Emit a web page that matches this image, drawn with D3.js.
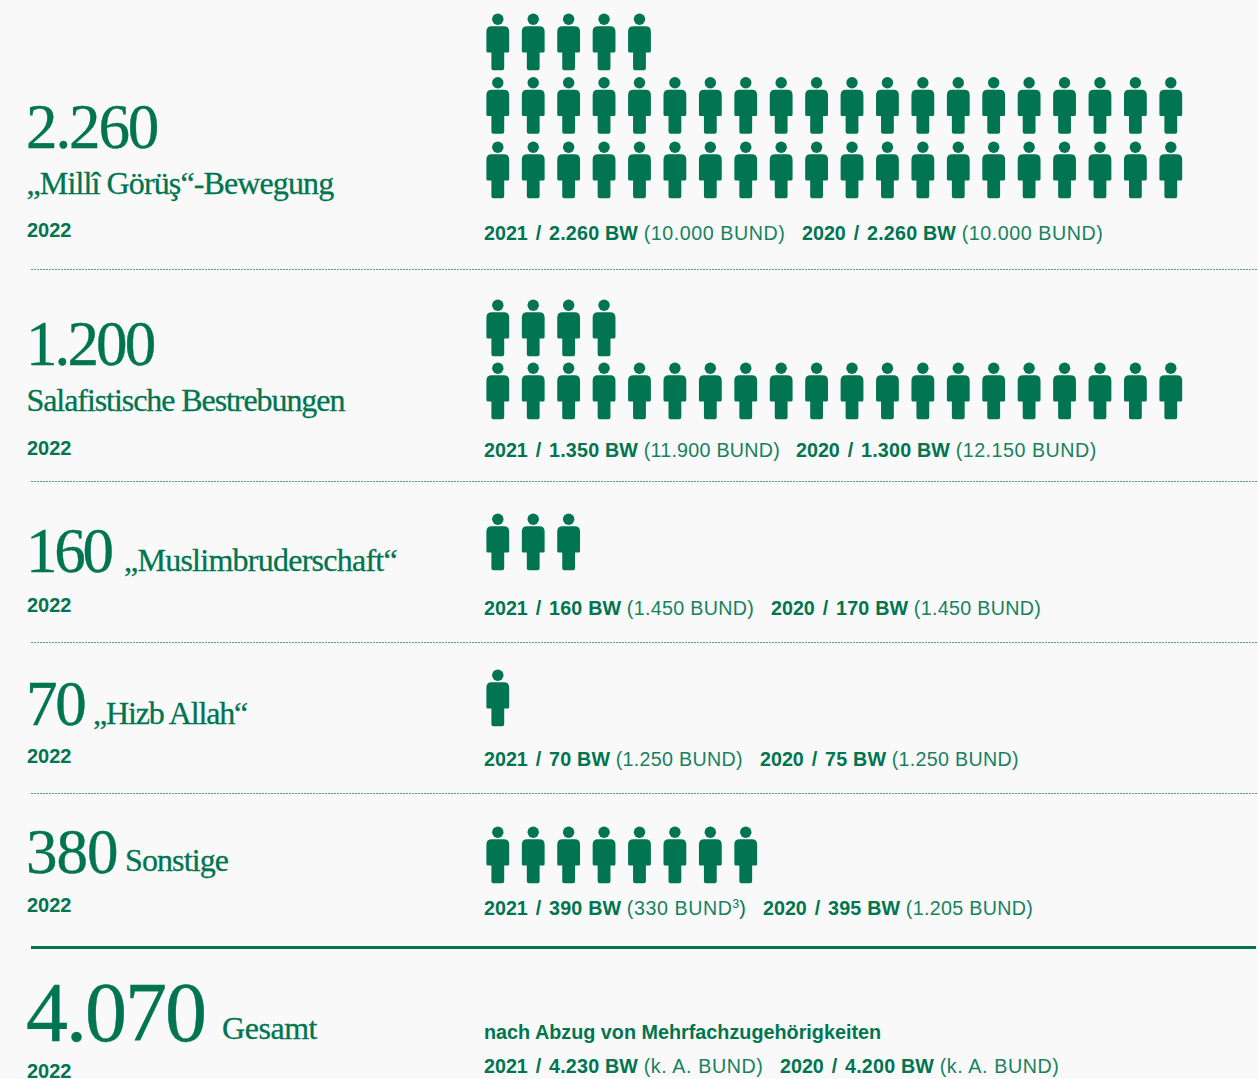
<!DOCTYPE html>
<html><head><meta charset="utf-8">
<script src="https://cdnjs.cloudflare.com/ajax/libs/d3/7.8.5/d3.min.js"></script>
<style>html,body{margin:0;padding:0;background:#f9f9f9;overflow:hidden}svg{display:block}</style>
</head><body><svg id="c" width="1258" height="1079"></svg>
<script>
const totals = ["2.260","1.200","160","70","380","4.070"];
const names = ["„Millî Görüş“-Bewegung","Salafistische Bestrebungen","„Muslimbruderschaft“","„Hizb Allah“","Sonstige","Gesamt"];
const years = ["2022","2022","2022","2022","2022","2022"];
const iconCounts = [45,24,3,1,8,0];
const perRow = 20;
const prior = [
 [["2021 / ","2.260 BW","(10.000 BUND)"],["2020 / ","2.260 BW","(10.000 BUND)"]],
 [["2021 / ","1.350 BW","(11.900 BUND)"],["2020 / ","1.300 BW","(12.150 BUND)"]],
 [["2021 / ","160 BW","(1.450 BUND)"],["2020 / ","170 BW","(1.450 BUND)"]],
 [["2021 / ","70 BW","(1.250 BUND)"],["2020 / ","75 BW","(1.250 BUND)"]],
 [["2021 / ","390 BW","(330 BUND³)"],["2020 / ","395 BW","(1.205 BUND)"]],
 [["2021 / ","4.230 BW","(k. A. BUND)"],["2020 / ","4.200 BW","(k. A. BUND)"]]
];
const note = "nach Abzug von Mehrfachzugehörigkeiten";

// layout (not data)
const GREEN="#00754f";
const L=[
 {num:147.5,numSize:63,numLs:-2.1,lab:194,labX:26.5,labLs:-0.88,yr:237,det:240,det2:802,icons:[13.5,77,141.5],sep:269,regLs:[.55,.55]},
 {num:365,numSize:63,numLs:-2.9,lab:411,labX:26.5,labLs:-1.07,yr:455,det:457,det2:796,icons:[299.5,362.5],sep:481,regLs:[.25,.5]},
 {num:572,numSize:63,numLs:-3.3,lab:571,labX:124,labLs:-0.75,yr:612,det:615,det2:771,icons:[513.5],sep:642,regLs:[.3,.3]},
 {num:725,numSize:63,numLs:-2.2,lab:724,labX:93,labLs:-1.15,yr:763,det:766,det2:760,icons:[669.5],sep:793,regLs:[.3,.3]},
 {num:873,numSize:63,numLs:-1,lab:871,labX:125,labLs:-0.9,yr:912,det:915,det2:763,icons:[826.5],sep:947,solid:true,regLs:[.55,.3]},
 {num:1041,numSize:84,numLs:-2,lab:1039,labX:222,labLs:-0.45,yr:1078,det:1073,det2:780,icons:[],sep:null,regLs:[.6,.6]}
];
const svg=d3.select("#c");
const x=d3.scaleLinear().domain([0,perRow-1]).range([497.8,1170.8]);
const iconPath="M-11.4,18 Q-11.4,12.7 -6,12.7 L6,12.7 Q11.4,12.7 11.4,18 L11.4,37.5 Q11.4,39 9.9,39 L6.4,39 L6.4,54.7 Q6.4,56.7 4.4,56.7 L-4.4,56.7 Q-6.4,56.7 -6.4,54.7 L-6.4,39 L-9.9,39 Q-11.4,39 -11.4,37.5 Z";
const serif="'Liberation Serif',serif", sans="'Liberation Sans',Arial,sans-serif";

totals.forEach((t,i)=>{
 const l=L[i];
 const g=svg.append("g");
 g.append("text").attr("x",26).attr("y",l.num).attr("font-family",serif).attr("font-size",l.numSize)
  .attr("letter-spacing",l.numLs).attr("fill",GREEN).attr("stroke",GREEN).attr("stroke-width",.4).text(t);
 g.append("text").attr("x",l.labX).attr("y",l.lab).attr("font-family",serif).attr("font-size",32)
  .attr("letter-spacing",l.labLs).attr("fill",GREEN).attr("stroke",GREEN).attr("stroke-width",.3).text(names[i]);
 g.append("text").attr("x",27).attr("y",l.yr).attr("font-family",sans).attr("font-weight",700).attr("font-size",20)
  .attr("fill",GREEN).text(years[i]);
 const rows=l.icons;
 const cells=d3.range(iconCounts[i]).map(k=>{
   const r=Math.floor(k/perRow);
   return {c:k%perRow,top:rows[rows.length-1-r]};
 });
 g.selectAll("g.icon").data(cells).join("g").attr("class","icon")
  .attr("transform",d=>`translate(${x(d.c)},${d.top})`)
  .each(function(){
    const s=d3.select(this);
    s.append("circle").attr("cx",0).attr("cy",5.7).attr("r",5.7).attr("fill",GREEN);
    s.append("path").attr("d",iconPath).attr("fill",GREEN);
  });
 const xs=[484,l.det2];
 prior[i].forEach((p,j)=>{
  const tx=g.append("text").attr("x",xs[j]).attr("y",l.det).attr("font-family",sans).attr("font-size",19.7).attr("fill",GREEN);
  tx.append("tspan").attr("font-weight",700).attr("word-spacing",2.4).style("white-space","pre").text(p[0]);
  tx.append("tspan").attr("font-weight",700).attr("letter-spacing",.2).text(p[1]);
  tx.append("tspan").text(" ");
  const ls=l.regLs[j];
  const m=p[2].match(/^(.*)³(.*)$/);
  if(m){
    tx.append("tspan").attr("opacity",.9).attr("letter-spacing",ls).text(m[1]);
    tx.append("tspan").attr("font-size",12).attr("dy",-7).text("3");
    tx.append("tspan").attr("dy",7).attr("letter-spacing",ls).text(m[2]);
  } else tx.append("tspan").attr("opacity",.9).attr("letter-spacing",ls).text(p[2]);
 });
 if(l.sep!==null){
  svg.append("line").attr("x1",31).attr("x2",l.solid?1256:1258).attr("y1",l.sep+.5).attr("y2",l.sep+.5)
   .attr("stroke",l.solid?GREEN:"#4f9f84").attr("stroke-width",l.solid?3:1).attr("stroke-dasharray",l.solid?null:"2 1");
 }
});
svg.append("text").attr("x",484).attr("y",1039).attr("font-family",sans).attr("font-weight",700).attr("font-size",19.8)
 .attr("fill",GREEN).text(note);
</script></body></html>
